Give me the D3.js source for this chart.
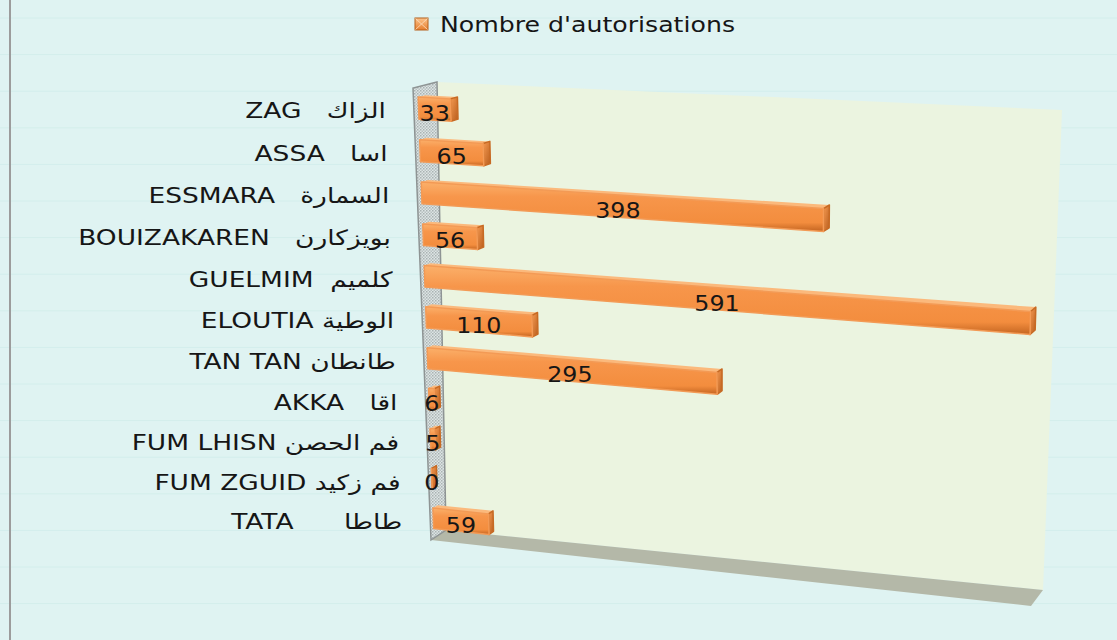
<!DOCTYPE html>
<html>
<head>
<meta charset="utf-8">
<script src="https://cdn.jsdelivr.net/npm/d3@7"></script>
<style>
  body { margin: 0; background: #dff3f2; overflow: hidden; }
  text { font-family: "DejaVu Sans", sans-serif; fill: #161616; white-space: pre; }
</style>
</head>
<body>
<div id="chart"></div>
<script>
var svgWidth = 1117;
var svgHeight = 640;

// data
var seriesName = "Nombre d'autorisations";
var categories = ["ZAG   الزاك", "ASSA   اسا", "ESSMARA   السمارة", "BOUIZAKAREN   بويزكارن",
  "GUELMIM  كلميم", "ELOUTIA الوطية", "TAN TAN طانطان", "AKKA   اقا",
  "FUM LHISN فم الحصن", "FUM ZGUID فم زكيد", "TATA      طاطا"];
var values = [33, 65, 398, 56, 591, 110, 295, 6, 5, 0, 59];
var valueMax = 600;

var svg = d3.select("#chart")
  .append("svg")
  .attr("width", svgWidth)
  .attr("height", svgHeight);

var defs = svg.append("defs");

// bar gradients
var frontGrad = defs.append("linearGradient").attr("id", "barFront")
  .attr("x1", 0).attr("y1", 0).attr("x2", 0).attr("y2", 1);
frontGrad.append("stop").attr("offset", "0%").attr("stop-color", "#fbb06a");
frontGrad.append("stop").attr("offset", "30%").attr("stop-color", "#f7964b");
frontGrad.append("stop").attr("offset", "82%").attr("stop-color", "#f38d3e");
frontGrad.append("stop").attr("offset", "100%").attr("stop-color", "#c46521");

var capGrad = defs.append("linearGradient").attr("id", "barCap")
  .attr("x1", 0).attr("y1", 0).attr("x2", 1).attr("y2", 1);
capGrad.append("stop").attr("offset", "0%").attr("stop-color", "#f59a52");
capGrad.append("stop").attr("offset", "100%").attr("stop-color", "#b85d1c");

var hatch = defs.append("pattern").attr("id", "hatch")
  .attr("width", 3).attr("height", 3).attr("patternUnits", "userSpaceOnUse");
hatch.append("rect").attr("width", 3).attr("height", 3).attr("fill", "#dde5e5");
hatch.append("rect").attr("width", 1.5).attr("height", 1.5).attr("fill", "#a9b2b2");
hatch.append("rect").attr("x", 1.5).attr("y", 1.5).attr("width", 1.5).attr("height", 1.5).attr("fill", "#b8c0c0");

var legGrad = defs.append("linearGradient").attr("id", "legGrad")
  .attr("x1", 0).attr("y1", 0).attr("x2", 0).attr("y2", 1);
legGrad.append("stop").attr("offset", "0%").attr("stop-color", "#fcc48c");
legGrad.append("stop").attr("offset", "100%").attr("stop-color", "#e67d2c");

// faint background stripes
var stripes = d3.range(18, svgHeight, 36.6);
svg.append("g").selectAll("line")
  .data(stripes)
  .enter()
  .append("line")
  .attr("x1", 0).attr("x2", svgWidth)
  .attr("y1", d => d).attr("y2", d => d)
  .attr("stroke", "#d3eeec")
  .attr("stroke-width", 1);

// left border of the chart area
svg.append("line")
  .attr("x1", 10).attr("x2", 10)
  .attr("y1", 0).attr("y2", svgHeight)
  .attr("stroke", "#9c9c9c")
  .attr("stroke-width", 2);

// unit square -> quad mapping (perspective)
function quadMap(q) {
  var x0 = q[0][0], y0 = q[0][1], x1 = q[1][0], y1 = q[1][1];
  var x2 = q[2][0], y2 = q[2][1], x3 = q[3][0], y3 = q[3][1];
  var dx1 = x1 - x2, dx2 = x3 - x2, dx3 = x0 - x1 + x2 - x3;
  var dy1 = y1 - y2, dy2 = y3 - y2, dy3 = y0 - y1 + y2 - y3;
  var den = dx1 * dy2 - dx2 * dy1;
  var g = (dx3 * dy2 - dx2 * dy3) / den;
  var h = (dx1 * dy3 - dx3 * dy1) / den;
  var a = x1 - x0 + g * x1, b = x3 - x0 + h * x3, c = x0;
  var d = y1 - y0 + g * y1, e = y3 - y0 + h * y3, f = y0;
  return function(u, v) {
    var w = g * u + h * v + 1;
    return [(a * u + b * v + c) / w, (d * u + e * v + f) / w];
  };
}

// back wall and front plane of the 3d box
var backMap = quadMap([[437, 82], [1062, 110], [1043, 590], [446, 530]]);
var frontMap = quadMap([[413, 88], [1041, 124], [1031, 606], [431, 540]]);

function project(u, v, w) {
  var b = backMap(u, v), f = frontMap(u, v);
  return [b[0] + (f[0] - b[0]) * w, b[1] + (f[1] - b[1]) * w];
}

function poly(pts) {
  return "M" + pts.map(p => p[0].toFixed(2) + "," + p[1].toFixed(2)).join("L") + "Z";
}

// scales
var xScale = d3.scaleLinear().domain([0, valueMax]).range([0, 1]);
var yScale = d3.scaleBand().domain(categories).range([0, 1])
  .paddingInner(0.48).paddingOuter(0.24);

var chartGroup = svg.append("g");

// walls
chartGroup.append("path")
  .attr("d", poly([project(0, 0, 0), project(1, 0, 0), project(1, 1, 0), project(0, 1, 0)]))
  .attr("fill", "#ebf4e0");

chartGroup.append("path")
  .attr("d", poly([project(0, 1, 0), project(1, 1, 0), project(1, 1, 1), project(0, 1, 1)]))
  .attr("fill", "#b4b8a8");

chartGroup.append("path")
  .attr("d", poly([project(0, 0, 0), project(0, 1, 0), project(0, 1, 1), project(0, 0, 1)]))
  .attr("fill", "url(#hatch)")
  .attr("stroke", "#8e9494")
  .attr("stroke-width", 1.5);

// bars
var wFront = 0.8, wBack = 0.5;
var bars = chartGroup.selectAll(".bar")
  .data(values)
  .enter()
  .append("g")
  .attr("class", "bar");

bars.append("path")
  .attr("d", (d, i) => {
    var v0 = yScale(categories[i]), u1 = xScale(d);
    return poly([project(0, v0, wBack), project(u1, v0, wBack), project(u1, v0, wFront), project(0, v0, wFront)]);
  })
  .attr("fill", "#fbb97c");

bars.append("path")
  .attr("d", (d, i) => {
    var v0 = yScale(categories[i]), v1 = v0 + yScale.bandwidth(), u1 = xScale(d);
    return poly([project(u1, v0, wBack), project(u1, v1, wBack), project(u1, v1, wFront), project(u1, v0, wFront)]);
  })
  .attr("fill", "url(#barCap)")
  .attr("stroke", "#c76a24")
  .attr("stroke-width", 1.5)
  .attr("stroke-linejoin", "round");

bars.append("path")
  .attr("d", (d, i) => {
    var v0 = yScale(categories[i]), v1 = v0 + yScale.bandwidth(), u1 = xScale(d);
    return poly([project(0, v0, wFront), project(u1, v0, wFront), project(u1, v1, wFront), project(0, v1, wFront)]);
  })
  .attr("fill", "url(#barFront)")
  .attr("stroke", "#f39a55")
  .attr("stroke-width", 1.5)
  .attr("stroke-linejoin", "round");

// value labels
bars.append("text")
  .attr("transform", (d, i) => {
    var vc = yScale(categories[i]) + yScale.bandwidth() / 2;
    var p = project(xScale(d) / 2, vc, wFront);
    return `translate(${p[0]}, ${p[1] + 4}) scale(1.08, 1)`;
  })
  .attr("text-anchor", "middle")
  .attr("dominant-baseline", "central")
  .style("font-size", "22px")
  .text(d => d);

// category labels
chartGroup.selectAll(".catLabel")
  .data(categories)
  .enter()
  .append("text")
  .attr("class", "catLabel")
  .attr("transform", d => {
    var p = project(0, yScale(d) + yScale.bandwidth() / 2, 1);
    return `translate(${p[0] - 28}, ${p[1] + 2}) scale(1.26, 1)`;
  })
  .attr("text-anchor", "end")
  .attr("dominant-baseline", "central")
  .style("font-size", "21px")
  .text(d => d);

// legend
var legend = svg.append("g");
legend.append("rect")
  .attr("x", 415).attr("y", 18)
  .attr("width", 13).attr("height", 12)
  .attr("fill", "url(#legGrad)")
  .attr("stroke", "#b5601d");
legend.append("path")
  .attr("d", "M415.5,18.5L421.5,24L427.5,18.5M415.5,29.5L421.5,24L427.5,29.5")
  .attr("fill", "none")
  .attr("stroke", "#fde0c2")
  .attr("stroke-width", 0.8);
legend.append("text")
  .attr("transform", "translate(440, 24) scale(1.2, 1)")
  .attr("dominant-baseline", "central")
  .style("font-size", "21px")
  .text(seriesName);
</script>
</body>
</html>
